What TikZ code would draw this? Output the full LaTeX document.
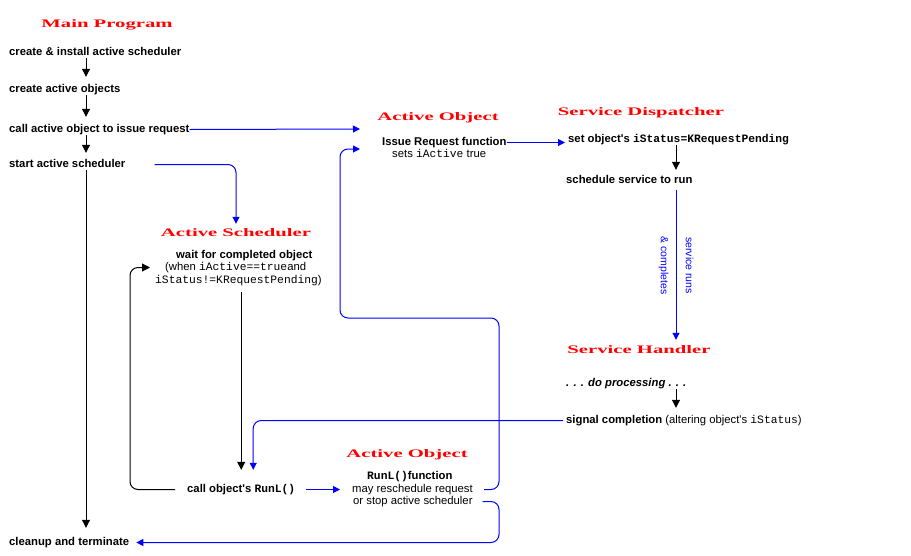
\documentclass[tikz,border=0pt]{standalone}
\usepackage{fontspec}
\setmainfont{Liberation Sans}
\setmonofont{Liberation Mono}
\newfontfamily\titleFont{Liberation Serif}
\usetikzlibrary{arrows.meta}
\tikzset{
  lbl/.style={anchor=base west,inner sep=0pt,text height=8pt,text depth=3pt,font=\fontsize{11.3}{13}\selectfont\bfseries},
  note/.style={lbl,font=\fontsize{11.3}{13}\selectfont},
  head/.style={anchor=base,inner sep=0pt,text height=8pt,text depth=0pt,red,font=\fontsize{11.5}{13}\selectfont\titleFont\bfseries},
  flow/.style={line width=1pt,-{Triangle[width=8pt,length=8pt]}},
  call/.style={blue,line width=1pt,rounded corners=8pt,-{Triangle[width=7pt,length=7pt]}}
}
\begin{document}
\begin{tikzpicture}[x=1pt,y=-1pt]
    \newcommand{\redTitle}[1]{
        \scalebox{1.8}[1]{#1}
    }
    \newcommand{\apos}{\textquotesingle}
  \useasboundingbox (0,0) rectangle (911,555);
  \coordinate (spine) at (86,0);
  \coordinate (axis) at (676,0);
  \coordinate (hook) at (130,0);
  \coordinate (rim) at (499,318);
  \coordinate (reqIn) at (360,129);
  \coordinate (runIn) at (360,149);

  \node[head] (mainT) at (107,27) {\redTitle{Main Program}};
  \node[lbl] (s1) at (9,55) {create \& install active scheduler};
  \node[lbl] (s2) at (9,92) {create active objects};
  \node[lbl] (s3) at (9,132) {call active object to issue request};
  \node[lbl] (s4) at (9,167) {start active scheduler};
  \node[lbl] (s5) at (9,545) {cleanup and terminate};

  \node[head] (aoT) at (438,120) {\redTitle{Active Object}};
  \node[lbl] (ir) at (382,145) {Issue Request function};
  \node[note] (irs) at (392,157) {sets \texttt{iActive} true};

  \node[head] (sdT) at (641,115) {\redTitle{Service Dispatcher}};
  \node[lbl] (sd1) at (568,142) {set object\apos s \texttt{iStatus=KRequestPending}};
  \node[lbl] (sd2) at (566,183) {schedule service to run};

  \node[head] (asT) at (236,236) {\redTitle{Active Scheduler}};
  \node[lbl] (w1) at (176,258) {wait for completed object};
  \node[note] (w2) at (165,270) {(when \texttt{iActive==true}and};
  \node[note] (w3) at (155,283) {\texttt{iStatus!=KRequestPending})};

  \node[head] (shT) at (639,353) {\redTitle{Service Handler}};
  \node[lbl] (sh1) at (566,386) {\textit{. . . do processing . . .}};
  \node[note] (sh2) at (566,423) {\textbf{signal completion} (altering object\apos s \texttt{iStatus})};

  \node[lbl] (rl) at (187,492) {call object\apos s \texttt{RunL()}};
  \node[head] (ao2T) at (407,457) {\redTitle{Active Object}};
  \node[lbl] (r1) at (367,479) {\texttt{RunL()}function};
  \node[note] (r2) at (352,492) {may reschedule request};
  \node[note] (r3) at (353,504) {or stop active scheduler};

  \draw[flow,shorten >=7pt] (s1.south -| spine) -- (s2.north -| spine);
  \draw[flow,shorten >=7pt] (s2.south -| spine) -- (s3.north -| spine);
  \draw[flow,shorten >=6pt] (s3.south -| spine) -- (s4.north -| spine);
  \draw[flow,shorten >=9pt] (s4.south -| spine) -- (s5.north -| spine);
  \draw[flow,shorten >=5pt] (sd1.south -| axis) -- (sd2.north -| axis);
  \draw[flow,shorten >=7pt] (sh1.south -| axis) -- (sh2.north -| axis);
  \draw[flow,shorten <=6pt,shorten >=14pt] (w3.south -| rl.north) -- (rl.north);
  \draw[flow,rounded corners=8pt,shorten <=12pt,shorten >=15pt] (rl.west) -| (hook |- w2.west) -- (w2.west);

  \draw[call] (s3.east) -- (reqIn);
  \draw[call,shorten <=29pt,shorten >=4pt] (s4.east) -| (asT.north);
  \draw[call,shorten >=3pt] (ir.east) -- (ir.east -| sd1.west);
  \draw[call,shorten <=4pt,shorten >=5pt] (sd2.south -| axis) -- node[rotate=-90,align=center,font=\fontsize{10.5}{25}\selectfont] {service runs\\\& completes} (shT.north -| axis);
  \draw[call,shorten <=3pt,shorten >=14pt] (sh2.west) -| ([xshift=12pt]rl.north);
  \draw[call,shorten <=11pt,shorten >=12pt] (rl.east) -- (rl.east -| r2.west);
  \draw[call,shorten <=11pt] (r2.east) -| (rim) -| ([xshift=-20pt]runIn) -- (runIn);
  \draw[call,shorten <=10pt,shorten >=7pt] (r3.east) -| (rim |- s5.east) -- (s5.east);
\end{tikzpicture}
\end{document}
